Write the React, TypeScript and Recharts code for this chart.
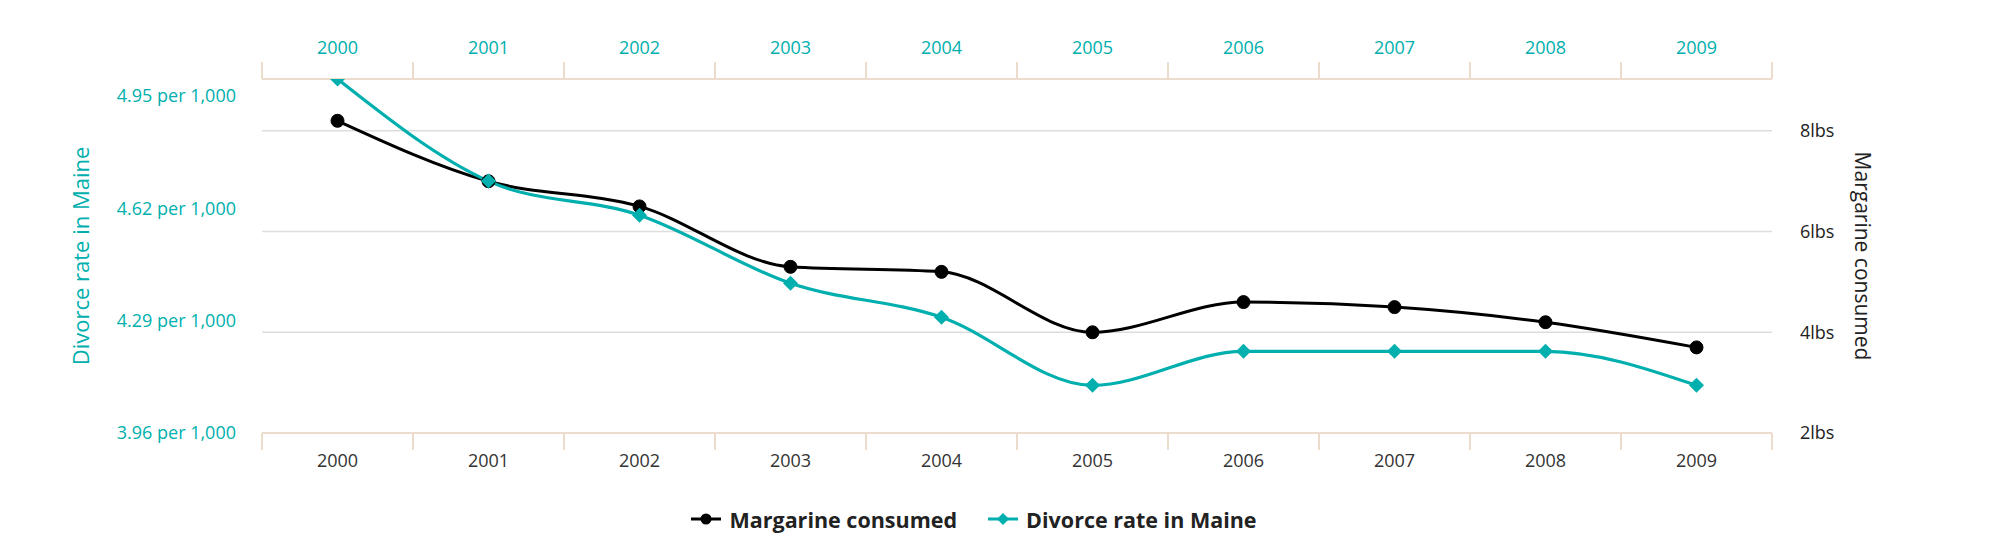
import React from 'react';
import { ComposedChart, Line, XAxis, YAxis, CartesianGrid, Legend } from 'recharts';

const years = ['2000', '2001', '2002', '2003', '2004', '2005', '2006', '2007', '2008', '2009'];
const margarine = [8.2, 7.0, 6.5, 5.3, 5.2, 4.0, 4.6, 4.5, 4.2, 3.7];
const divorce = [5.0, 4.7, 4.6, 4.4, 4.3, 4.1, 4.2, 4.2, 4.2, 4.1];
const divorceTicks = [3.96, 4.29, 4.62, 4.95];
const divorceDomain = [3.96, 5.0];
const margarineTicks = [2, 4, 6, 8];
const margarineDomain = [2, 9.03];
const boundaryTicks = [0, 1, 2, 3, 4, 5, 6, 7, 8, 9, 10];
const boundaryDomain = [0, 10];
const seriesOrder = ['margarine', 'divorce'];

const data = years.map((year, i) => ({ year, margarine: margarine[i], divorce: divorce[i] }));

const TEAL = '#00afae';
const BEIGE = '#ebdccb';
const GRID = '#dddddd';
const DARK = '#333333';
const FONT = '"Open Sans", sans-serif';

const CircleDot = (props: any) => {
  const { cx, cy } = props;
  if (cx == null || cy == null) return <g key={props.index} />;
  return <circle key={props.index} cx={cx} cy={cy} r={6.5} fill="#000" stroke="#000" strokeWidth={1} />;
};

const DiamondDot = (props: any) => {
  const { cx, cy } = props;
  if (cx == null || cy == null) return <g key={props.index} />;
  const s = 7.5;
  return (
    <polygon
      key={props.index}
      points={`${cx},${cy - s} ${cx + s},${cy} ${cx},${cy + s} ${cx - s},${cy}`}
      fill={TEAL}
    />
  );
};

const makeTitle = (title: string, color: string, shiftX: number, rot: number, size: number) => (props: any) => {
  const { viewBox } = props;
  if (!viewBox) return null;
  const cx = viewBox.x + shiftX;
  const cy = viewBox.y + viewBox.height / 2;
  return (
    <text
      x={cx}
      y={cy}
      transform={`rotate(${rot}, ${cx}, ${cy})`}
      textAnchor="middle"
      dominantBaseline="central"
      fill={color}
      fontSize={size}
      fontFamily={FONT}
    >
      {title}
    </text>
  );
};

const leftTitle = makeTitle('Divorce rate in Maine', TEAL, 40, -90, 22);
const rightTitle = makeTitle('Margarine consumed', '#222', 91, 90, 21);

const renderLegend = (props: any) => {
  const payload = [...(props.payload || [])].sort(
    (a: any, b: any) => seriesOrder.indexOf(a.dataKey) - seriesOrder.indexOf(b.dataKey)
  );
  return (
    <div
      style={{
        display: 'flex',
        justifyContent: 'center',
        alignItems: 'center',
        gap: 31,
        fontFamily: FONT,
        fontWeight: 700,
        fontSize: 21.5,
        color: '#222',
        height: 28,
      }}
    >
      {payload.map((entry: any) => (
        <div key={entry.value} style={{ display: 'flex', alignItems: 'center' }}>
          <svg width={30} height={16}>
            <line x1={0} y1={8} x2={30} y2={8} stroke={entry.color} strokeWidth={3} />
            {entry.dataKey === 'divorce' ? (
              <polygon points="15,2 21,8 15,14 9,8" fill={entry.color} />
            ) : (
              <circle cx={15} cy={8} r={5.5} fill={entry.color} />
            )}
          </svg>
          <span style={{ marginLeft: 8 }}>{entry.value}</span>
        </div>
      ))}
    </div>
  );
};

const blank = () => '';

export default function App() {
  return (
    <div style={{ position: 'absolute', left: 0, top: 0, width: 2000, height: 540, fontFamily: FONT, background: '#fff' }}>
      <ComposedChart
        width={2000}
        height={540}
        data={data}
        margin={{ top: 77, right: 40, bottom: 105, left: 40 }}
      >
        <CartesianGrid
          xAxisId="bnd"
          yAxisId="right"
          vertical={false}
          horizontal={true}
          stroke={GRID}
          strokeWidth={1.5}
        />
        {/* boundary tick axes */}
        <XAxis
          xAxisId="bnd"
          dataKey="edge"
          type="number"
          scale="linear"
          orientation="bottom"
          domain={boundaryDomain}
          ticks={boundaryTicks}
          allowDataOverflow
          height={1}
          interval={0}
          tickFormatter={blank}
          tick={{ fontSize: 1, fill: 'none' }}
          tickSize={17}
          axisLine={{ stroke: BEIGE, strokeWidth: 2 }}
          tickLine={{ stroke: BEIGE, strokeWidth: 2 }}
        />
        <XAxis
          xAxisId="bndTop"
          dataKey="edge"
          type="number"
          scale="linear"
          orientation="top"
          domain={boundaryDomain}
          ticks={boundaryTicks}
          allowDataOverflow
          height={1}
          interval={0}
          tickFormatter={blank}
          tick={{ fontSize: 1, fill: 'none' }}
          tickSize={17}
          axisLine={{ stroke: BEIGE, strokeWidth: 2 }}
          tickLine={{ stroke: BEIGE, strokeWidth: 2 }}
        />
        {/* category label axes */}
        <XAxis
          xAxisId="cat"
          dataKey="year"
          type="category"
          scale="band"
          orientation="bottom"
          height={1}
          interval={0}
          axisLine={false}
          tickLine={false}
          tickSize={0}
          tickMargin={20}
          tick={{ fill: DARK, fontSize: 18, fontFamily: FONT }}
        />
        <XAxis
          xAxisId="catTop"
          dataKey="year"
          type="category"
          scale="band"
          orientation="top"
          height={1}
          interval={0}
          axisLine={false}
          tickLine={false}
          tickSize={0}
          tickMargin={24}
          tick={{ fill: TEAL, fontSize: 18, fontFamily: FONT }}
        />
        <YAxis
          yAxisId="left"
          orientation="left"
          width={222}
          domain={divorceDomain}
          ticks={divorceTicks}
          allowDataOverflow
          interval={0}
          axisLine={false}
          tickLine={false}
          tickSize={0}
          tickMargin={26}
          tickFormatter={(v: number) => `${v.toFixed(2)} per 1,000`}
          tick={{ fill: TEAL, fontSize: 18, fontFamily: FONT }}
          label={{ content: leftTitle }}
        />
        <YAxis
          yAxisId="right"
          orientation="right"
          width={188}
          domain={margarineDomain}
          ticks={margarineTicks}
          allowDataOverflow
          interval={0}
          axisLine={false}
          tickLine={false}
          tickSize={0}
          tickMargin={28}
          tickFormatter={(v: number) => `${v}lbs`}
          tick={{ fill: '#222', fontSize: 18, fontFamily: FONT }}
          label={{ content: rightTitle }}
        />
        <Legend
          layout="horizontal"
          verticalAlign="middle"
          align="center"
          content={renderLegend}
          wrapperStyle={{ top: 505, left: 0, width: 1948, height: 28 }}
        />
        <Line
          name="Margarine consumed"
          xAxisId="cat"
          yAxisId="right"
          dataKey="margarine"
          type="monotone"
          stroke="#000"
          strokeWidth={3}
          dot={(p: any) => <CircleDot key={`m-${p.index}`} {...p} />}
          activeDot={false}
          isAnimationActive={false}
        />
        <Line
          name="Divorce rate in Maine"
          xAxisId="cat"
          yAxisId="left"
          dataKey="divorce"
          type="monotone"
          stroke={TEAL}
          strokeWidth={3.2}
          dot={(p: any) => <DiamondDot key={`d-${p.index}`} {...p} />}
          activeDot={false}
          isAnimationActive={false}
        />
      </ComposedChart>
    </div>
  );
}
